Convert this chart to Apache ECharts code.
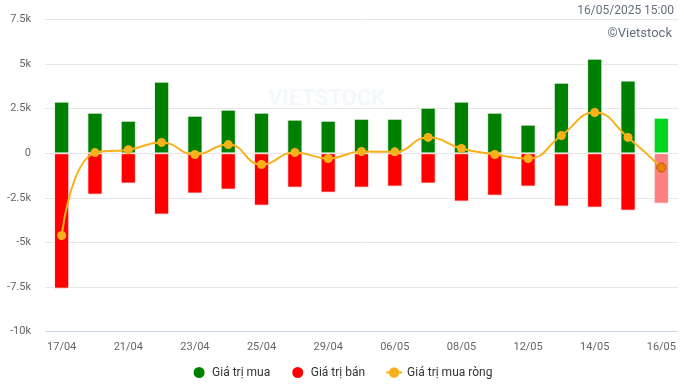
<!DOCTYPE html>
<html>
<head>
<meta charset="utf-8">
<script src="https://cdn.jsdelivr.net/npm/echarts@6/dist/echarts.min.js"></script>
<style>
html,body{margin:0;padding:0;background:#fff;}
#c{width:684px;height:388px;}
</style>
</head>
<body>
<div id="c"></div>
<script>
var categories = ['17/04','18/04','21/04','22/04','23/04','24/04','25/04','28/04','29/04','05/05','06/05','07/05','08/05','09/05','12/05','13/05','14/05','15/05','16/05'];
var buyValues = [2890,2270,1820,4010,2100,2440,2270,1880,1820,1930,1930,2550,2890,2270,1600,3950,5300,4070,1990];
var sellValues = [-7580,-2310,-1690,-3430,-2250,-2030,-2930,-1920,-2200,-1920,-1860,-1690,-2700,-2370,-1860,-2980,-3040,-3210,-2820];
var netValues = [-4610,40,200,610,-70,490,-630,50,-290,100,80,890,270,-70,-290,1000,2290,890,-800];
var yTicks = {min:-10000, max:7500, interval:2500};
var legendNames = ['Giá trị mua','Giá trị bán','Giá trị mua ròng'];

var last = categories.length - 1;
var buyData = buyValues.map(function(v,i){ return i===last ? {value:v,itemStyle:{color:'#00d41c'}} : v; });
var sellData = sellValues.map(function(v,i){ return i===last ? {value:v,itemStyle:{color:'#ff8080'}} : v; });
var netData = netValues.map(function(v,i){ return i===last ? {value:v,itemStyle:{color:'#f07f09',borderColor:'#b35c00',borderWidth:1}} : v; });

var chart = echarts.init(document.getElementById('c'), null, {renderer:'canvas'});
chart.setOption({
  animation:false,
  textStyle:{fontFamily:'Roboto'},
  grid:{left:45,right:6,top:19.5,bottom:56.3,containLabel:false},
  graphic:[
    {type:'text',right:10,top:5,style:{text:'16/05/2025 15:00',fill:'#666f7f',font:'12px Roboto'}},
    {type:'text',right:12,top:27,style:{text:'©Vietstock',fill:'#666f7f',font:'13px Roboto'}},
    {type:'text',left:268,top:88,z:-1,style:{text:'VIETSTOCK',fill:'rgba(200,215,235,0.2)',font:'bold 22px Roboto'}}
  ],
  legend:{
    bottom:3,left:'center',itemGap:20,itemWidth:16,itemHeight:13,
    textStyle:{color:'#333',fontSize:12,fontFamily:'Roboto'},
    data:[{name:legendNames[0],icon:'circle'},{name:legendNames[1],icon:'circle'},{name:legendNames[2]}]
  },
  xAxis:{
    type:'category',data:categories,
    axisTick:{show:false},
    axisLine:{show:false},
    axisLabel:{interval:1,color:'#666666',fontSize:11,margin:10}
  },
  yAxis:{
    type:'value',min:yTicks.min,max:yTicks.max,interval:yTicks.interval,
    axisLine:{show:false},axisTick:{show:false},
    splitLine:{lineStyle:{color:'#e6e6e6',width:1}},
    axisLabel:{color:'#666666',fontSize:11,margin:14,formatter:function(v){return v===0?'0':(v/1000)+'k';}}
  },
  series:[
    {name:legendNames[0],type:'bar',stack:'s',data:buyData,barWidth:15,itemStyle:{color:'#008000',borderColor:'#fff',borderWidth:0.8}},
    {name:legendNames[1],type:'bar',stack:'s',data:sellData,barWidth:15,itemStyle:{color:'#ff0000',borderColor:'#fff',borderWidth:0.8}},
    {name:legendNames[2],type:'line',data:netData,smooth:true,symbol:'circle',symbolSize:9,
     lineStyle:{color:'#f9b11b',width:2},itemStyle:{color:'#f9b11b'},z:5},
    {type:'line',data:[],markLine:{silent:true,symbol:'none',label:{show:false},lineStyle:{color:'#ccd6eb',type:'solid',width:1},data:[{yAxis:yTicks.min}]}}
  ]
});
</script>
</body>
</html>
